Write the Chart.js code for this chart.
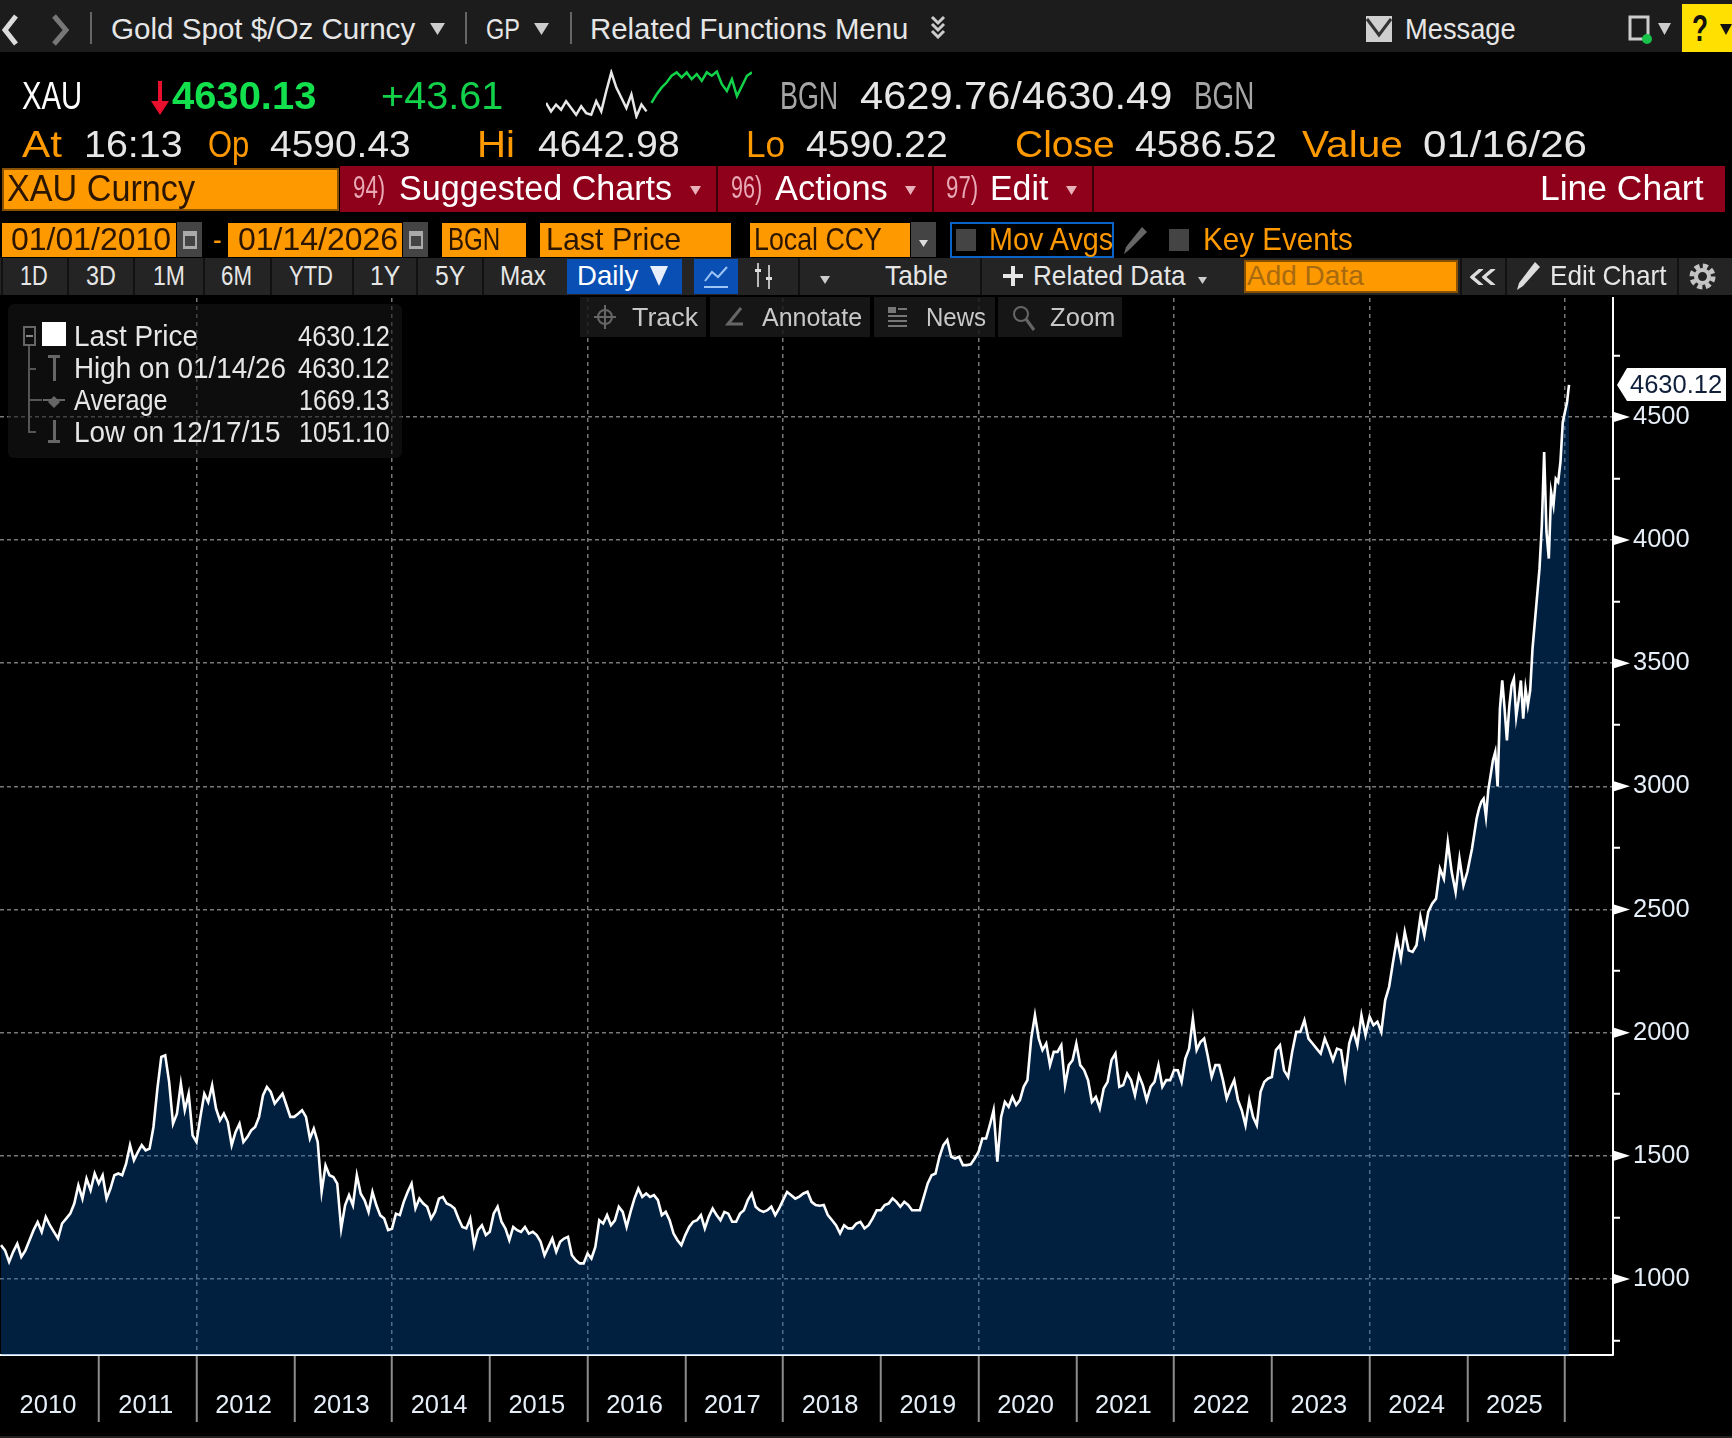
<!DOCTYPE html>
<html>
<head>
<meta charset="utf-8">
<script src="https://cdn.jsdelivr.net/npm/chart.js"></script>
<style>
  html, body { margin:0; padding:0; background:#000; width:1732px; height:1438px; overflow:hidden; }
  #myChart { position:absolute; left:0; top:2px; z-index:1; }
  #sparkChart { position:absolute; left:546px; top:69px; z-index:3; }
  .box { position:absolute; z-index:2; box-sizing:border-box; }
  .txt { position:absolute; z-index:3; white-space:nowrap; line-height:1; font-family:"Liberation Sans", sans-serif; transform-origin:left center; }
  .ico { position:absolute; z-index:3; }
</style>
</head>
<body>
<canvas id="myChart" width="1732" height="1438"></canvas>
<canvas id="sparkChart" width="206" height="50"></canvas>
<div id="overlay"></div>
<script>
  // gold spot
  var price2010 = [1137,1116,1069,1110,1143,1089,1116,1157,1198,1231,1191,1252,1218,1191,1164,1225,1245,1265,1306,1380,1326,1407,1360,1428];
  var price2011 = [1387,1421,1326,1367,1421,1428,1421,1468,1543,1482,1515,1543,1522,1529,1617,1773,1901,1908,1800,1630,1671,1793,1685,1752,1583];
  var price2012 = [1556,1658,1752,1718,1786,1691,1644,1671,1637,1543,1597,1630,1556,1576,1603,1617,1658,1745,1779,1759,1712,1732,1752,1705,1658];
  var price2013 = [1658,1671,1685,1658,1570,1610,1556,1353,1461,1421,1414,1387,1204,1299,1340,1299,1421,1346,1319,1272,1353,1299,1258,1245,1198];
  var price2014 = [1204,1265,1259,1313,1353,1387,1286,1326,1306,1293,1245,1272,1326,1333,1306,1299,1286,1245,1211,1205,1245,1137,1198,1218,1178];
  var price2015 = [1191,1265,1293,1232,1205,1157,1211,1198,1191,1211,1184,1191,1178,1151,1096,1130,1164,1110,1151,1164,1171,1096,1076,1063,1063];
  var price2016 = [1103,1083,1130,1238,1225,1259,1218,1238,1293,1272,1211,1272,1326,1367,1333,1347,1333,1340,1320,1259,1272,1238,1184,1157,1137];
  var price2017 = [1178,1211,1232,1238,1259,1205,1252,1286,1259,1238,1272,1265,1232,1232,1265,1279,1320,1347,1293,1279,1272,1279,1293,1259,1286];
  var price2018 = [1320,1353,1340,1326,1334,1347,1354,1313,1300,1297,1300,1259,1239,1218,1185,1218,1205,1205,1225,1232,1205,1218,1246,1279];
  var price2019 = [1279,1300,1306,1327,1313,1293,1313,1300,1279,1279,1279,1333,1388,1421,1428,1496,1543,1564,1496,1489,1496,1462,1462,1465,1489];
  var price2020 = [1516,1570,1570,1624,1685,1476,1658,1719,1699,1739,1706,1726,1780,1807,1976,2071,1976,1929,1956,1868,1922,1922,1949,1787,1868,1888];
  var price2021 = [1956,1868,1848,1807,1719,1739,1692,1773,1800,1888,1915,1780,1787,1834,1807,1746,1827,1787,1726,1780,1800,1868,1780,1807,1807];
  var price2022 = [1848,1847,1800,1895,1935,2057,1929,1962,1976,1902,1820,1868,1868,1807,1732,1773,1807,1726,1685,1624,1726,1658,1624,1760,1800,1814];
  var price2023 = [1820,1929,1949,1847,1820,1922,2003,2003,2050,1976,1956,1935,1915,1976,1935,1888,1935,1929,1820,1956,2010,1949,2071,1990];
  var price2024 = [2064,2030,2044,2003,2132,2186,2287,2382,2301,2409,2334,2328,2355,2470,2395,2490,2524,2544,2666,2625,2774,2652,2571,2706,2598];
  var price2025 = [2652,2700,2747,2808,2869,2909,2937,2950,2876,2985,3045,3106,3140,3000,3315,3430,3315,3187,3322,3410,3437,3282,3349,3430,3275,3397,3329,3390,
                   3559,3668,3776,3884,4060,4358,4033,3925,4195,4141,4249,4236,4317,4479];
  var price2026 = [4561,4630.12];

  var yearList = [2010,2011,2012,2013,2014,2015,2016,2017,2018,2019,2020,2021,2022,2023,2024,2025,2026];
  var priceLists = [price2010,price2011,price2012,price2013,price2014,price2015,price2016,price2017,price2018,price2019,price2020,price2021,price2022,price2023,price2024,price2025,price2026];
  var yearLabels = ["2010","2011","2012","2013","2014","2015","2016","2017","2018","2019","2020","2021","2022","2023","2024","2025",""];
  var majorTicks = [1000,1500,2000,2500,3000,3500,4000,4500];
  var minorTicks = [750,1250,1750,2250,2750,3250,3750,4250,4750];
  var lastPrice = 4630.12;

  // header sparkline, intraday
  var sparkWhite = [4606,4596,4604,4598,4608,4600,4592,4602,4594,4592,4608,4596,4620,4642,4624,4612,4600,4616,4590,4604,4596];
  var sparkGreen = [4606,4616,4624,4630,4638,4642,4636,4642,4634,4640,4632,4642,4638,4643,4628,4620,4634,4614,4626,4638,4642];

  var linePoints = [];
  for (var yi=0;yi<yearList.length;yi++) {
    var span = yearList[yi] == 2026 ? 0.04 : 1; // only two weeks of 2026
    var list = priceLists[yi];
    for (var i=0;i<list.length;i++)
      linePoints.push({x: yearList[yi] + (yearList[yi] == 2026 ? (i+1)/list.length : i/list.length)*span, y: list[i]});
  }

  const axisFont = {family:'"Liberation Sans"', size:25.5};

  const axisMarks = {
    id:'axisMarks',
    afterDraw(chart) {
      const ctx = chart.ctx, sy = chart.scales.y;
      const ax = chart.chartArea.right;
      ctx.save();
      ctx.fillStyle = '#fff';
      majorTicks.forEach(function(v) {
        var py = sy.getPixelForValue(v);
        ctx.beginPath();
        ctx.moveTo(ax+1, py-5); ctx.lineTo(ax+17, py); ctx.lineTo(ax+1, py+5);
        ctx.closePath(); ctx.fill();
      });
      // price tag
      var ty = sy.getPixelForValue(lastPrice);
      ctx.beginPath();
      ctx.moveTo(ax+4, ty);
      ctx.lineTo(ax+14, ty-17); ctx.lineTo(ax+113, ty-17);
      ctx.lineTo(ax+113, ty+16); ctx.lineTo(ax+14, ty+16);
      ctx.closePath(); ctx.fill();
      ctx.fillStyle = '#10203a';
      ctx.font = '25.5px "Liberation Sans"';
      ctx.textBaseline = 'middle';
      ctx.fillText('4630.12', ax+17, ty+1);
      ctx.restore();
    }
  };

  new Chart(document.getElementById('myChart'), {
    type:'line',
    data:{ datasets:[{
      data:linePoints,
      borderColor:'#ffffff',
      borderWidth:2.6,
      backgroundColor:'rgba(3,91,183,0.35)', // see-through so the grid still shows under the fill
      fill:'start',
      pointRadius:0,
      tension:0,
    }]},
    plugins:[axisMarks],
    options:{
      responsive:false,
      animation:false,
      devicePixelRatio:1,
      layout:{padding:{top:296,left:0,right:0,bottom:0}},
      plugins:{legend:{display:false},title:{display:false},tooltip:{enabled:false}},
      scales:{
        x:{
          type:'linear',
          min:2009.99,
          max:2026.49,
          afterBuildTicks(s){ s.ticks = yearList.map(function(v){return {value:v};}); },
          afterFit(s){ s.height = 85; s.paddingLeft = 0; s.paddingRight = 0; },
          border:{color:'#fff',width:2,dash:[4,4]},
          grid:{
            color(c){ var v=c.tick.value; return (v%2==0 && v>2010) ? '#787878' : 'transparent'; },
            tickColor(c){ return c.tick.value>2010 ? '#8c8c8c' : 'transparent'; },
            tickLength:67,
            tickWidth:2,
            lineWidth:1.5,
          },
          ticks:{
            color:'#e6eef8',
            font:axisFont,
            autoSkip:false,
            maxRotation:0,
            labelOffset:47,
            padding:-31,
            callback(v){ return yearLabels[yearList.indexOf(v)]; },
          },
        },
        y:{
          position:'right',
          min:691,
          max:4983,
          afterBuildTicks(s){ s.ticks = majorTicks.concat(minorTicks).sort(function(a,b){return a-b;}).map(function(v){return {value:v};}); },
          afterFit(s){ s.width = 119; s.paddingTop = 0; s.paddingBottom = 0; },
          border:{color:'#fff',width:2,dash:[4,3]},
          grid:{
            color(c){ return c.tick.value%500==0 ? '#787878' : 'transparent'; },
            tickColor(c){ return c.tick.value%500==0 ? 'transparent' : '#fff'; },
            tickLength:7,
            tickWidth:2,
            lineWidth:1.5,
          },
          ticks:{
            color:'#e6eef8',
            font:axisFont,
            padding:13,
            autoSkip:false,
            callback(v){ return v%500==0 ? String(v) : ''; },
          },
        },
      },
    },
  });

  var sparkLabels = [];
  for (var si=0;si<sparkWhite.length+sparkGreen.length;si++) sparkLabels.push(si);
  new Chart(document.getElementById('sparkChart'), {
    type:'line',
    data:{
      labels:sparkLabels,
      datasets:[
        {data:sparkWhite, borderColor:'#e8e8e8', borderWidth:2.5, pointRadius:0, tension:0},
        {data:new Array(sparkWhite.length).fill(null).concat(sparkGreen), borderColor:'#12d24a', borderWidth:2.5, pointRadius:0, tension:0},
      ],
    },
    options:{
      responsive:false, animation:false, devicePixelRatio:1,
      layout:{padding:0},
      plugins:{legend:{display:false},tooltip:{enabled:false}},
      scales:{x:{display:false},y:{display:false,min:4587,max:4646}},
    },
  });

  // ---- terminal chrome around the chart ----
  var overlay = document.getElementById('overlay');
  var ORANGE = '#ff9900', CRIMSON = '#8f001b', WHITE = '#e6e6e6', GREY = '#a6a6a6';

  function box(x,y,w,h,bg,extra) {
    var d = document.createElement('div');
    d.className = 'box';
    d.style.cssText = 'left:'+x+'px;top:'+y+'px;width:'+w+'px;height:'+h+'px;background:'+bg+';'+(extra||'');
    overlay.appendChild(d);
    return d;
  }
  // text squeezed to the width it has in the reference
  function put(str,x0,x1,yc,px,color,extra) {
    var s = document.createElement('span');
    s.className = 'txt';
    s.textContent = str;
    s.style.cssText = 'left:'+x0+'px;top:'+yc+'px;font-size:'+px+'px;color:'+color+';'+(extra||'');
    overlay.appendChild(s);
    var k = (x1-x0)/s.offsetWidth;
    s.style.transform = 'translateY(-50%) scaleX('+k+')';
    return s;
  }
  function svg(x,y,w,h,inner) {
    var d = document.createElement('div');
    d.className = 'ico';
    d.style.cssText = 'left:'+x+'px;top:'+y+'px;width:'+w+'px;height:'+h+'px;';
    d.innerHTML = '<svg width="'+w+'" height="'+h+'" viewBox="0 0 '+w+' '+h+'">'+inner+'</svg>';
    overlay.appendChild(d);
  }
  function arrow(x,y,w,h,color) { svg(x,y,w,h,'<polygon points="0,0 '+w+',0 '+(w/2)+','+h+'" fill="'+color+'"/>'); }

  // top bar
  box(0,0,1732,52,'#1c1c1c');
  svg(0,14,20,32,'<polyline points="16,2 5,16 16,30" fill="none" stroke="#dcdcdc" stroke-width="5"/>');
  svg(50,14,24,32,'<polyline points="4,2 16,16 4,30" fill="none" stroke="#777" stroke-width="5"/>');
  box(90,12,2,32,'#666'); box(465,12,2,32,'#666'); box(570,12,2,32,'#666');
  put('Gold Spot $/Oz Curncy',111,415,29,29,WHITE);
  arrow(430,21,15,12,'#ccc');
  put('GP',486,520,29,29,WHITE);
  arrow(534,21,15,12,'#ccc');
  put('Related Functions Menu',590,908,29,29,WHITE);
  svg(929,15,18,24,'<polyline points="3,2 9,8 15,2" fill="none" stroke="#ccc" stroke-width="3"/><polyline points="3,9 9,15 15,9" fill="none" stroke="#ccc" stroke-width="3"/><polyline points="3,16 9,22 15,16" fill="none" stroke="#ccc" stroke-width="3"/>');
  svg(1366,16,26,26,'<rect width="26" height="26" fill="#cfcfcf"/><polyline points="1,3 13,19 25,3" fill="none" stroke="#333" stroke-width="3"/>');
  put('Message',1405,1516,29,29,WHITE);
  svg(1628,15,26,30,'<rect x="2" y="2" width="18" height="22" fill="none" stroke="#ccc" stroke-width="3"/><circle cx="19" cy="24" r="5" fill="#19c24a"/>');
  arrow(1658,21,13,12,'#ccc');
  box(1682,4,50,48,'#ffe000');
  put('?',1692,1708,29,36,'#111','font-weight:bold;');
  arrow(1720,21,12,11,'#111');

  // quote rows
  put('XAU',22,82,96,38,'#fff');
  svg(151,81,18,34,'<rect x="7" y="0" width="4" height="24" fill="#e8102c"/><polygon points="0,20 18,20 9,34" fill="#e8102c"/>');
  put('4630.13',172,316,96,38,'#12e04c','font-weight:bold;');
  put('+43.61',381,503,96,38,'#12d24a');
  put('BGN',780,838,96,38,GREY);
  put('4629.76/4630.49',860,1172,96,38,WHITE);
  put('BGN',1194,1254,96,38,GREY);

  put('At',22,62,144,37,ORANGE);
  put('16:13',84,183,144,37,WHITE);
  put('Op',208,249,144,37,ORANGE);
  put('4590.43',270,411,144,37,WHITE);
  put('Hi',477,515,144,37,ORANGE);
  put('4642.98',538,680,144,37,WHITE);
  put('Lo',746,785,144,37,ORANGE);
  put('4590.22',806,948,144,37,WHITE);
  put('Close',1015,1115,144,37,ORANGE);
  put('4586.52',1135,1277,144,37,WHITE);
  put('Value',1302,1403,144,37,ORANGE);
  put('01/16/26',1423,1587,144,37,WHITE);

  // red band
  box(2,168,337,43,ORANGE,'border:2px solid #8a5200;');
  put('XAU Curncy',7,195,189,36,'#2a1500');
  box(340,166,1385,46,CRIMSON);
  box(716,166,2,46,'#3a0008'); box(932,166,2,46,'#3a0008'); box(1092,166,2,46,'#3a0008');
  put('94)',353,385,187,32,'#e8a8b4');
  put('Suggested Charts',399,672,187,35,'#fff');
  arrow(690,181,11,9,'#e8b0b8');
  put('96)',731,762,187,32,'#e8a8b4');
  put('Actions',775,888,187,35,'#fff');
  arrow(905,181,11,9,'#e8b0b8');
  put('97)',946,978,187,32,'#e8a8b4');
  put('Edit',990,1048,187,35,'#fff');
  arrow(1066,181,11,9,'#e8b0b8');
  put('Line Chart',1540,1703,187,35,'#fff');

  // date row
  box(2,223,174,34,ORANGE); box(177,222,25,35,'#444');
  put('01/01/2010',11,171,239,32,'#2a1500');
  svg(183,231,14,18,'<rect width="14" height="18" fill="#aaa"/><rect x="2" y="5" width="10" height="10" fill="#444"/>');
  put('-',213,222,239,32,ORANGE);
  box(228,223,174,34,ORANGE); box(403,222,25,35,'#444');
  put('01/14/2026',238,398,239,32,'#2a1500');
  svg(409,231,14,18,'<rect width="14" height="18" fill="#aaa"/><rect x="2" y="5" width="10" height="10" fill="#444"/>');
  box(442,223,84,34,ORANGE);
  put('BGN',448,500,239,32,'#2a1500');
  box(540,223,191,34,ORANGE);
  put('Last Price',546,681,239,32,'#2a1500');
  box(750,223,160,34,ORANGE); box(911,222,25,35,'#444');
  put('Local CCY',754,882,239,32,'#2a1500');
  arrow(919,233,9,7,'#ddd');
  box(950,222,164,36,'transparent','border:2px solid #0a64c8;');
  box(956,229,20,22,'#444');
  put('Mov Avgs',989,1113,239,32,ORANGE);
  svg(1122,226,26,30,'<polygon points="20,1 25,6 7,24 2,28 4,21" fill="#666"/>');
  box(1169,229,20,22,'#444');
  put('Key Events',1203,1353,239,32,ORANGE);

  // period buttons
  box(0,258,1732,37,'#242424');
  [67,133,203,270,352,416,482,1].forEach(function(x){ box(x,258,2,37,'#111'); });
  put('1D',20,48,276,28,WHITE);
  put('3D',86,116,276,28,WHITE);
  put('1M',153,185,276,28,WHITE);
  put('6M',221,252,276,28,WHITE);
  put('YTD',289,333,276,28,WHITE);
  put('1Y',370,400,276,28,WHITE);
  put('5Y',435,465,276,28,WHITE);
  put('Max',500,546,276,28,WHITE);
  box(567,259,115,35,'#0a50b4');
  put('Daily',577,638,276,28,'#fff');
  arrow(650,266,18,20,'#e8eefa');
  box(694,259,44,35,'#0a50b4');
  svg(703,265,26,24,'<polyline points="2,16 9,7 15,12 24,2" fill="none" stroke="#9cc4f4" stroke-width="2"/><line x1="1" y1="22" x2="25" y2="22" stroke="#9cc4f4" stroke-width="2"/>');
  svg(752,261,24,30,'<line x1="6" y1="2" x2="6" y2="26" stroke="#bbb" stroke-width="2"/><line x1="17" y1="4" x2="17" y2="28" stroke="#bbb" stroke-width="2"/><rect x="3" y="8" width="6" height="3" fill="#ddd"/><rect x="14" y="16" width="6" height="3" fill="#ddd"/>');
  arrow(820,270,10,8,'#ccc');
  box(798,258,2,37,'#111'); box(980,258,2,37,'#111');
  put('Table',885,948,276,28,WHITE);
  svg(1003,265,20,22,'<rect x="8" y="1" width="4" height="20" fill="#e6e6e6"/><rect x="0" y="9" width="20" height="4" fill="#e6e6e6"/>');
  put('Related Data',1033,1185,276,28,WHITE);
  arrow(1198,270,9,7,'#ccc');
  box(1244,260,214,33,ORANGE,'border:2px solid #8a5200;');
  put('Add Data',1247,1364,276,28,'#a86a10');
  put('\u00ab',1468,1497,274,40,'#ddd');
  svg(1515,261,26,30,'<polygon points="20,1 25,6 8,25 2,29 4,22" fill="#ddd"/>');
  put('Edit Chart',1550,1667,276,28,WHITE);
  svg(1689,263,27,27,'<circle cx="13.5" cy="13.5" r="10.5" fill="none" stroke="#c4c4c4" stroke-width="5" stroke-dasharray="5 3.25"/><circle cx="13.5" cy="13.5" r="6.5" fill="none" stroke="#c4c4c4" stroke-width="4"/>');
  box(1460,258,2,37,'#111'); box(1505,258,2,37,'#111'); box(1677,258,2,37,'#111');

  // chart tool strip
  box(580,297,126,40,'rgba(26,26,26,0.85)');
  box(710,297,160,40,'rgba(26,26,26,0.85)');
  box(874,297,121,40,'rgba(26,26,26,0.85)');
  box(998,297,124,40,'rgba(26,26,26,0.85)');
  svg(593,304,24,26,'<circle cx="12" cy="13" r="7" fill="none" stroke="#666" stroke-width="2"/><line x1="12" y1="1" x2="12" y2="25" stroke="#666" stroke-width="2"/><line x1="1" y1="13" x2="23" y2="13" stroke="#666" stroke-width="2"/>');
  put('Track',632,698,317,26,'#c8c8c8');
  svg(725,306,20,22,'<polyline points="16,2 3,18 18,18" fill="none" stroke="#666" stroke-width="3"/>');
  put('Annotate',762,862,317,26,'#c8c8c8');
  svg(888,306,20,22,'<rect x="0" y="1" width="8" height="6" fill="#777"/><rect x="10" y="2" width="9" height="2" fill="#777"/><rect x="0" y="9" width="19" height="2" fill="#777"/><rect x="0" y="14" width="19" height="2" fill="#777"/><rect x="0" y="19" width="19" height="2" fill="#777"/>');
  put('News',926,986,317,26,'#c8c8c8');
  svg(1011,304,26,28,'<circle cx="10" cy="10" r="7" fill="none" stroke="#666" stroke-width="2"/><line x1="15" y1="15" x2="23" y2="26" stroke="#666" stroke-width="3"/>');
  put('Zoom',1050,1115,317,26,'#c8c8c8');

  // legend panel
  box(8,304,394,154,'rgba(24,24,24,0.55)','border-radius:6px;');
  box(23,326,13,20,'transparent','border:2px solid #666;');
  box(26,335,7,2,'#888');
  box(42,322,24,24,'#fff');
  box(28,346,2,86,'#555'); box(28,368,8,2,'#555'); box(28,431,8,2,'#555');
  box(28,399,14,2,'#555');
  box(48,355,12,3,'#666'); box(53,355,3,26,'#666');
  box(43,399,22,2,'#666'); svg(48,394,12,12,'<polygon points="6,0 12,6 6,12 0,6" fill="#666"/>');
  box(53,420,3,22,'#666'); box(48,440,12,3,'#666');
  put('Last Price',74,198,336,29,WHITE);
  put('4630.12',298,390,336,29,WHITE);
  put('High on 01/14/26',74,286,368,29,WHITE);
  put('4630.12',298,390,368,29,WHITE);
  put('Average',74,168,400,29,WHITE);
  put('1669.13',299,390,400,29,WHITE);
  put('Low on 12/17/15',74,280,432,29,WHITE);
  put('1051.10',299,390,432,29,WHITE);

  box(0,1436,1732,2,'#222');
</script>
</body>
</html>
